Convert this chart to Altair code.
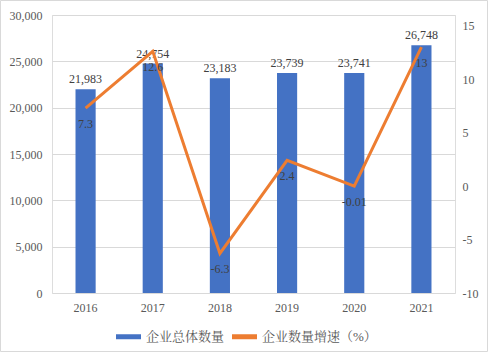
import altair as alt
import pandas as pd

years = ["2016", "2017", "2018", "2019", "2020", "2021"]
counts = [21983, 24754, 23183, 23739, 23741, 26748]
growth = [7.3, 12.6, -6.3, 2.4, -0.01, 13]
growth_labels = ["7.3", "12.6", "-6.3", "2.4", "-0.01", "13"]
bar_name = "企业总体数量"
line_name = "企业数量增速（%）"

df = pd.DataFrame({
    "year": years,
    "count": counts,
    "growth": growth,
    "glabel": growth_labels,
    "bar_s": [bar_name] * len(years),
    "line_s": [line_name] * len(years),
})

FONT = "Liberation Serif, Noto Serif CJK SC, Noto Sans CJK SC"
TXT = "#404040"
cscale = alt.Scale(domain=[bar_name, line_name], range=["#4472C4", "#ED7D31"])

xenc = alt.X("year:N", sort=years, scale=alt.Scale(paddingInner=0.7, paddingOuter=0.35),
             axis=alt.Axis(title=None, labelAngle=0, ticks=False, domain=False,
                           labelFont=FONT, labelFontSize=12, labelColor="#595959", labelPadding=9))

yleft = alt.Y("count:Q", scale=alt.Scale(domain=[0, 30000]),
              axis=alt.Axis(title=None, values=[0, 5000, 10000, 15000, 20000, 25000, 30000],
                            format=",.0f", ticks=False, domain=False, gridColor="#d9d9d9",
                            labelFont=FONT, labelFontSize=12, labelColor="#595959", labelPadding=10))

base = alt.Chart(df)

bars = base.mark_bar(color="#4472C4").encode(
    x=xenc, y=yleft,
    color=alt.Color("bar_s:N", title=None, scale=cscale,
                    legend=alt.Legend(title=None, orient="none", direction="horizontal",
                                      legendX=64, legendY=309,
                                      symbolType="M-1,-0.2L1,-0.2L1,0.2L-1,0.2Z",
                                      symbolSize=625, symbolStrokeWidth=0,
                                      labelFont=FONT, labelFontSize=13, labelColor="#595959",
                                      columnPadding=7, labelOffset=5))
)
bar_text = base.mark_text(dy=-10, font=FONT, fontSize=12, color=TXT).encode(
    x=alt.X("year:N", sort=years), y=alt.Y("count:Q"),
    text=alt.Text("count:Q", format=",.0f")
)

left = alt.layer(bars, bar_text)

yright = alt.Y("growth:Q", scale=alt.Scale(domain=[-10, 15]),
               axis=alt.Axis(title=None, orient="right", values=[-10, -5, 0, 5, 10, 15],
                             labelExpr="'' + datum.value",
                             ticks=False, domain=False, grid=False,
                             labelFont=FONT, labelFontSize=12, labelColor="#595959",
                             labelPadding=7, labelAlign="left"))

line = base.mark_line(strokeWidth=3).encode(
    x=alt.X("year:N", sort=years), y=yright,
    color=alt.Color("line_s:N", title=None, scale=cscale)
)
line_text = base.mark_text(dy=16, font=FONT, fontSize=12, color=TXT).encode(
    x=alt.X("year:N", sort=years), y=alt.Y("growth:Q"),
    text="glabel:N"
)
right = alt.layer(line, line_text)

border = alt.Chart(pd.DataFrame({"a": [0]})).mark_rect(fill=None, stroke="#d9d9d9", strokeWidth=1, clip=False).encode(
    x=alt.value(-51.5), x2=alt.value(435.5), y=alt.value(-14.5), y2=alt.value(336.5)
)

chart = alt.layer(left, right, border).resolve_scale(y="independent").properties(
    width=403, height=278,
    autosize=alt.AutoSizeParams(type="none"),
    padding={"left": 52, "top": 15, "right": 33, "bottom": 59},
).configure_view(stroke=None).configure(background="white").configure_axis(
    labelFont=FONT
)

chart.save("out.html", embed_options={"renderer": "svg", "actions": False})
